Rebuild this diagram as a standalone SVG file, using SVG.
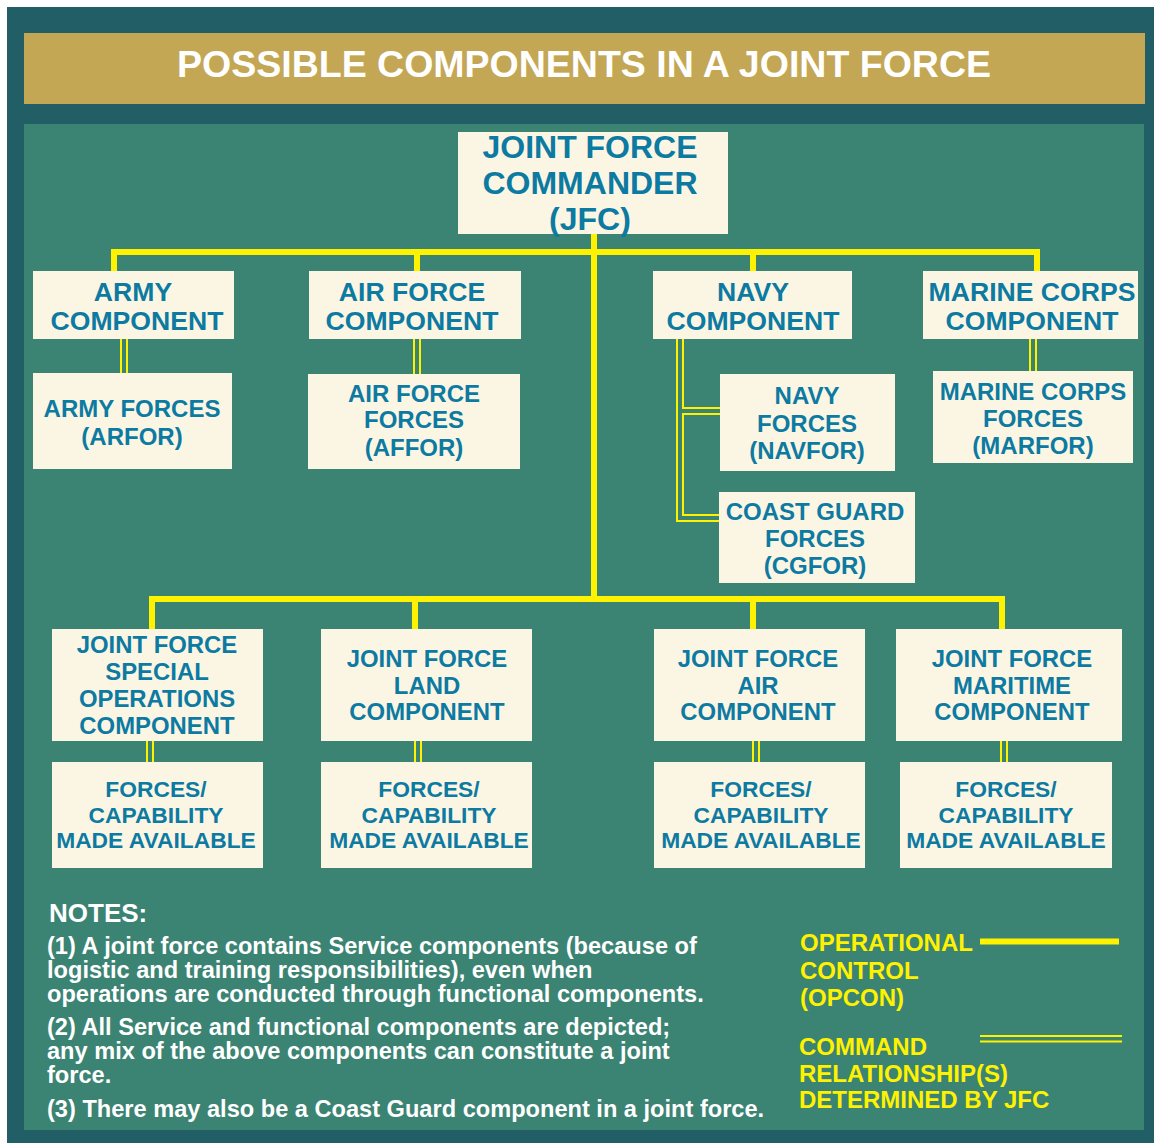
<svg xmlns="http://www.w3.org/2000/svg" width="1154" height="1143" viewBox="0 0 1154 1143">
<style>
.box{fill:#fbf6e4}
.bt{font-family:"Liberation Sans",Arial,sans-serif;font-weight:bold;fill:#0d7aa2;text-anchor:middle}
.c26{font-size:26.6px}
.c24{font-size:24px}
.c23{font-size:23.9px}
.f23{font-size:22.8px}
.opcon{fill:none;stroke:#fff200;stroke-width:6}
.dblo{fill:none;stroke:#fff200;stroke-width:8}
.dbli{fill:none;stroke:#3b8373;stroke-width:4}
.note{font-family:"Liberation Sans",Arial,sans-serif;font-weight:bold;fill:#ffffff;font-size:23.6px}
.notes-h{font-family:"Liberation Sans",Arial,sans-serif;font-weight:bold;fill:#ffffff;font-size:26px}
.leg{font-family:"Liberation Sans",Arial,sans-serif;font-weight:bold;fill:#fff200;font-size:24px}
</style>
<rect x="0" y="0" width="1154" height="1143" fill="#ffffff"/>
<rect x="7" y="7" width="1147" height="1136" fill="#215e66"/>
<rect x="24" y="33" width="1121" height="71" fill="#c4a754"/>
<text x="584" y="77" font-family="'Liberation Sans',Arial,sans-serif" font-weight="bold" font-size="37.5" fill="#ffffff" text-anchor="middle">POSSIBLE COMPONENTS IN A JOINT FORCE</text>
<rect x="24" y="124" width="1120" height="1006" fill="#3b8373"/>

<g id="connectors">
<path class="opcon" d="M594,234 V599"/>
<path class="opcon" d="M114,271 V252 H1037 V271"/>
<path class="opcon" d="M417,252 V271"/>
<path class="opcon" d="M753,252 V271"/>
<path class="opcon" d="M152,629 V599 H1002 V629"/>
<path class="opcon" d="M415,599 V629"/>
<path class="opcon" d="M753,599 V629"/>
<path class="dblo" d="M124,339 V373 M417,339 V374 M680,339 V518 H719 M680,411 H720 M1033,339 V371 M150,741 V762 M418,741 V762 M756,741 V762 M1004,741 V762"/>
<path class="dbli" d="M124,337 V375 M417,337 V376 M680,337 V518 H721 M680,411 H722 M1033,337 V373 M150,739 V764 M418,739 V764 M756,739 V764 M1004,739 V764"/>
</g>

<g id="jfc">
<rect class="box" x="458" y="132" width="270" height="102"/>
<text class="bt" font-size="32" x="590" y="158">JOINT FORCE</text>
<text class="bt" font-size="32" x="590" y="194">COMMANDER</text>
<text class="bt" font-size="32" x="590" y="230">(JFC)</text>
</g>

<g id="army-component">
<rect class="box" x="33" y="271" width="201" height="68"/>
<text class="bt c26" x="133" y="301">ARMY</text>
<text class="bt c26" x="137" y="329.5">COMPONENT</text>
</g>
<g id="army-forces">
<rect class="box" x="33" y="373" width="199" height="96"/>
<text class="bt c24" x="132" y="416.5">ARMY FORCES</text>
<text class="bt c24" x="132" y="445">(ARFOR)</text>
</g>

<g id="airforce-component">
<rect class="box" x="309" y="271" width="212" height="68"/>
<text class="bt c26" x="412" y="300.5">AIR FORCE</text>
<text class="bt c26" x="412" y="329.5">COMPONENT</text>
</g>
<g id="airforce-forces">
<rect class="box" x="308" y="374" width="212" height="95"/>
<text class="bt c24" x="414" y="401.5">AIR FORCE</text>
<text class="bt c24" x="414" y="428">FORCES</text>
<text class="bt c24" x="414" y="455.5">(AFFOR)</text>
</g>

<g id="navy-component">
<rect class="box" x="653" y="271" width="199" height="68"/>
<text class="bt c26" x="753" y="300.5">NAVY</text>
<text class="bt c26" x="753" y="329.5">COMPONENT</text>
</g>
<g id="navy-forces">
<rect class="box" x="720" y="374" width="175" height="97"/>
<text class="bt c24" x="807" y="403.5">NAVY</text>
<text class="bt c24" x="807" y="431.5">FORCES</text>
<text class="bt c24" x="807" y="458.5">(NAVFOR)</text>
</g>
<g id="coastguard-forces">
<rect class="box" x="719" y="492" width="196" height="91"/>
<text class="bt c24" x="815" y="520">COAST GUARD</text>
<text class="bt c24" x="815" y="546.5">FORCES</text>
<text class="bt c24" x="815" y="573.5">(CGFOR)</text>
</g>

<g id="marine-component">
<rect class="box" x="923" y="271" width="215" height="68"/>
<text class="bt c26" x="1032" y="300.5">MARINE CORPS</text>
<text class="bt c26" x="1032" y="329.5">COMPONENT</text>
</g>
<g id="marine-forces">
<rect class="box" x="933" y="371" width="200" height="92"/>
<text class="bt c24" x="1033" y="400">MARINE CORPS</text>
<text class="bt c24" x="1033" y="427">FORCES</text>
<text class="bt c24" x="1033" y="453.5">(MARFOR)</text>
</g>

<g id="jfsoc">
<rect class="box" x="52" y="629" width="211" height="112"/>
<text class="bt c23" x="157" y="653">JOINT FORCE</text>
<text class="bt c23" x="157" y="680">SPECIAL</text>
<text class="bt c23" x="157" y="707">OPERATIONS</text>
<text class="bt c23" x="157" y="734">COMPONENT</text>
</g>
<g id="jfsoc-forces">
<rect class="box" x="52" y="762" width="211" height="106"/>
<text class="bt f23" x="156" y="797">FORCES/</text>
<text class="bt f23" x="156" y="823">CAPABILITY</text>
<text class="bt f23" x="156" y="848">MADE AVAILABLE</text>
</g>

<g id="jflcc">
<rect class="box" x="321" y="629" width="211" height="112"/>
<text class="bt c23" x="427" y="667">JOINT FORCE</text>
<text class="bt c23" x="427" y="694">LAND</text>
<text class="bt c23" x="427" y="720">COMPONENT</text>
</g>
<g id="jflcc-forces">
<rect class="box" x="321" y="762" width="211" height="106"/>
<text class="bt f23" x="429" y="797">FORCES/</text>
<text class="bt f23" x="429" y="823">CAPABILITY</text>
<text class="bt f23" x="429" y="848">MADE AVAILABLE</text>
</g>

<g id="jfacc">
<rect class="box" x="654" y="629" width="211" height="112"/>
<text class="bt c23" x="758" y="667">JOINT FORCE</text>
<text class="bt c23" x="758" y="694">AIR</text>
<text class="bt c23" x="758" y="720">COMPONENT</text>
</g>
<g id="jfacc-forces">
<rect class="box" x="654" y="762" width="211" height="106"/>
<text class="bt f23" x="761" y="797">FORCES/</text>
<text class="bt f23" x="761" y="823">CAPABILITY</text>
<text class="bt f23" x="761" y="848">MADE AVAILABLE</text>
</g>

<g id="jfmcc">
<rect class="box" x="896" y="629" width="226" height="112"/>
<text class="bt c23" x="1012" y="667">JOINT FORCE</text>
<text class="bt c23" x="1012" y="694">MARITIME</text>
<text class="bt c23" x="1012" y="720">COMPONENT</text>
</g>
<g id="jfmcc-forces">
<rect class="box" x="900" y="762" width="212" height="106"/>
<text class="bt f23" x="1006" y="797">FORCES/</text>
<text class="bt f23" x="1006" y="823">CAPABILITY</text>
<text class="bt f23" x="1006" y="848">MADE AVAILABLE</text>
</g>

<g id="notes">
<text class="notes-h" x="49" y="922">NOTES:</text>
<text class="note" x="47" y="954">(1) A joint force contains Service components (because of</text>
<text class="note" x="47" y="978">logistic and training responsibilities), even when</text>
<text class="note" x="47" y="1002">operations are conducted through functional components.</text>
<text class="note" x="47" y="1035">(2) All Service and functional components are depicted;</text>
<text class="note" x="47" y="1059">any mix of the above components can constitute a joint</text>
<text class="note" x="47" y="1083">force.</text>
<text class="note" x="47" y="1117">(3) There may also be a Coast Guard component in a joint force.</text>
</g>

<g id="legend">
<text class="leg" x="800" y="951">OPERATIONAL</text>
<text class="leg" x="800" y="978.5">CONTROL</text>
<text class="leg" x="800" y="1005.5">(OPCON)</text>
<text class="leg" x="799" y="1054.5">COMMAND</text>
<text class="leg" x="799" y="1081.5">RELATIONSHIP(S)</text>
<text class="leg" x="799" y="1108">DETERMINED BY JFC</text>
<path d="M980,941.5 H1119" stroke="#fff200" stroke-width="6"/>
<path d="M980,1036 H1122 M980,1041.5 H1122" stroke="#fff200" stroke-width="2"/>
</g>
</svg>
